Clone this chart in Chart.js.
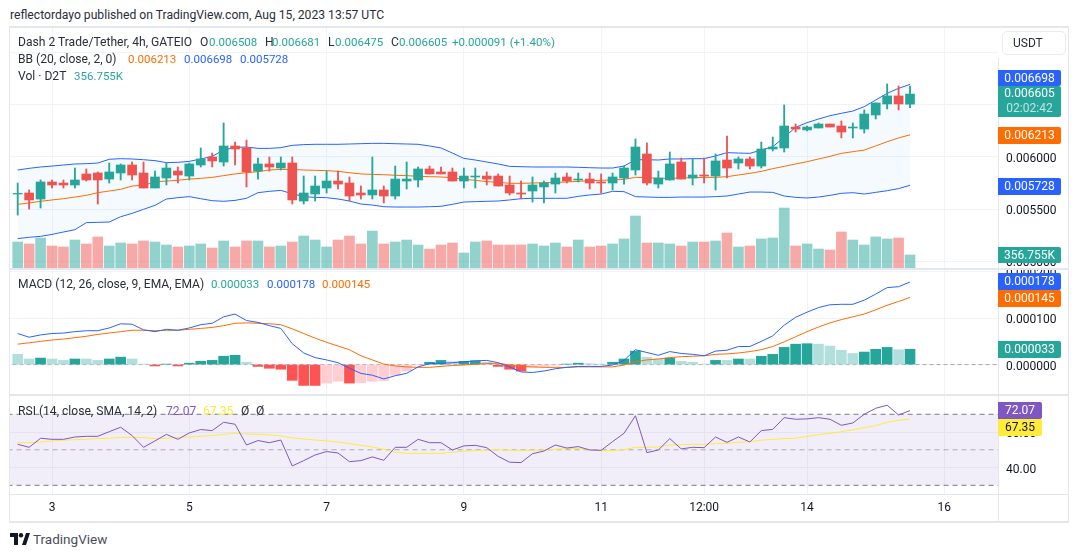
<!DOCTYPE html>
<html>
<head>
<meta charset="utf-8">
<script src="https://cdn.jsdelivr.net/npm/chart.js@4"></script>
<style>
  html, body { margin: 0; padding: 0; background: #fff; width: 1080px; height: 557px; overflow: hidden; }
  body { position: relative; font-family: Roboto, sans-serif; font-size: 12.1px; color: #2a2e39; }
  canvas { position: absolute; left: 10px; }
  .txt { position: absolute; white-space: nowrap; line-height: 14px; }
  .line { position: absolute; background: #e4e7ee; }
  .tag { position: absolute; left: 998px; width: 63px; height: 17px; line-height: 17px; text-align: center; color: #fff; border-radius: 0 2px 2px 0; font-size: 12px; }
  .green, .blue, .orange { font-size: 11.5px; }
  .green { color: #26a69a; } .blue { color: #2962ff; } .orange { color: #ff6d00; }
  .purple { color: #7e57c2; } .yellow { color: #ffeb3b; }
</style>
</head>
<body>
<canvas id="priceCanvas" width="1058" height="240" style="top:28px"></canvas>
<canvas id="macdCanvas" width="1058" height="124" style="top:270px"></canvas>
<canvas id="rsiCanvas" width="1058" height="125" style="top:396px"></canvas>

<div class="line" style="left:9px;top:26px;width:1060px;height:2px"></div>
<div class="line" style="left:9px;top:521px;width:1060px;height:2px"></div>
<div class="line" style="left:9px;top:26px;width:1px;height:497px"></div>
<div class="line" style="left:1068px;top:26px;width:1px;height:497px"></div>
<div class="line" style="left:10px;top:268px;width:1058px;height:2px"></div>
<div class="line" style="left:10px;top:394px;width:1058px;height:2px"></div>
<div class="line" style="left:10px;top:494px;width:1058px;height:1px"></div>
<div class="line" style="left:998px;top:58px;width:1px;height:464px"></div>

<div class="txt" style="left:10px;top:8px;font-size:12.15px">reflectordayo published on TradingView.com, Aug 15, 2023 13:57 UTC</div>

<div class="txt" style="left:18px;top:35px">Dash 2 Trade/Tether, 4h, GATEIO</div>
<div class="txt" style="left:200px;top:35px">O</div><div class="txt green" style="left:209px;top:35px">0.006508</div>
<div class="txt" style="left:265px;top:35px">H</div><div class="txt green" style="left:272px;top:35px">0.006681</div>
<div class="txt" style="left:328px;top:35px">L</div><div class="txt green" style="left:335px;top:35px">0.006475</div>
<div class="txt" style="left:391px;top:35px">C</div><div class="txt green" style="left:399px;top:35px">0.006605</div>
<div class="txt green" style="left:452px;top:35px">+0.000091 (+1.40%)</div>

<div class="txt" style="left:18px;top:52px">BB (20, close, 2, 0)</div>
<div class="txt orange" style="left:128px;top:52px">0.006213</div>
<div class="txt blue" style="left:184px;top:52px">0.006698</div>
<div class="txt blue" style="left:240px;top:52px">0.005728</div>

<div class="txt" style="left:18px;top:69px">Vol · D2T</div>
<div class="txt green" style="left:74px;top:69px">356.755K</div>

<div class="txt" style="left:18px;top:277px">MACD (12, 26, close, 9, EMA, EMA)</div>
<div class="txt green" style="left:211px;top:277px">0.000033</div>
<div class="txt blue" style="left:267px;top:277px">0.000178</div>
<div class="txt orange" style="left:322px;top:277px">0.000145</div>

<div class="txt" style="left:18px;top:404px">RSI (14, close, SMA, 14, 2)</div>
<div class="txt purple" style="left:166px;top:404px">72.07</div>
<div class="txt yellow" style="left:203px;top:404px">67.35</div>
<div class="txt" style="left:241px;top:404px">Ø</div>
<div class="txt" style="left:256px;top:404px">Ø</div>

<div style="position:absolute;left:998px;top:28px;width:70px;height:30px;background:#fff"></div>
<div class="txt" style="left:1002px;top:31px;width:52px;padding-left:10px;height:22px;line-height:22px;border:1px solid #e9ebf0;border-radius:5px;background:#fff;font-size:12px">USDT</div>

<div class="tag" style="top:70px;height:16px;background:#2962ff">0.006698</div>
<div class="tag" style="top:86px;height:31px;background:#26a69a;line-height:15px">0.006605<br><span style="color:#bfe5e1">02:02:42</span></div>
<div class="tag" style="top:127px;background:#ff6d00">0.006213</div>
<div class="tag" style="top:178px;background:#2962ff">0.005728</div>
<div class="tag" style="top:247px;height:16px;background:#26a69a">356.755K</div>
<div class="tag" style="top:273px;background:#2962ff">0.000178</div>
<div class="tag" style="top:290px;background:#ff6d00">0.000145</div>
<div class="tag" style="top:341px;background:#26a69a">0.000033</div>
<div class="tag" style="top:402px;width:44px;background:#7e57c2">72.07</div>
<div class="tag" style="top:419px;width:44px;background:#ffeb3b;color:#131722">67.35</div>

<svg style="position:absolute;left:10px;top:533px" width="20" height="12" viewBox="0 0 20 12">
  <path d="M0 0h8v12H4V4H0z M12 12l4-12h4l-4 12z" fill="#131722"/><circle cx="11" cy="2.2" r="2.2" fill="#131722"/>
</svg>
<div class="txt" style="left:33px;top:532px;font-size:13.5px;color:#4a4e59">TradingView</div>

<script>
// prices are kept in millionths (5644 = 0.005644), volume in thousands
const openValues = [5644,5654,5596,5760,5750,5731,5837,5846,5788,5846,
  5923,5846,5702,5798,5865,5817,5923,6000,5952,6106,
  6087,5865,5933,5894,5942,5577,5644,5702,5769,5750,
  5654,5635,5683,5625,5769,5779,5885,5856,5856,5769,
  5808,5817,5817,5731,5654,5673,5712,5740,5808,5779,
  5788,5760,5750,5798,5875,6029,5740,5779,5952,5798,
  5827,5817,5971,5942,5981,5913,6077,6087,6288,6260,
  6279,6317,6298,6279,6269,6404,6510,6587,6508];
const highValues = [5750,5683,5779,5779,5779,5894,5885,5856,5942,5933,
  5952,5952,5865,5942,5904,5942,6087,6038,6327,6144,
  6163,5990,6000,6000,6000,5817,5817,5865,5865,5808,
  5721,6000,5721,5913,5952,5904,5913,5904,5894,5894,
  5894,5856,5837,5817,5769,5808,5769,5846,5846,5846,
  5846,5837,5846,5913,6173,6135,5865,6048,5990,5981,
  5990,6029,6202,6000,6000,6144,6192,6500,6317,6298,
  6327,6317,6346,6327,6452,6519,6702,6683,6681];
const lowValues = [5442,5500,5510,5702,5702,5702,5769,5548,5750,5779,
  5779,5702,5702,5731,5750,5779,5904,5904,5913,5923,
  5712,5788,5865,5875,5548,5548,5577,5654,5692,5577,
  5596,5596,5558,5596,5692,5712,5837,5837,5769,5702,
  5702,5731,5721,5635,5596,5567,5558,5654,5750,5760,
  5692,5654,5683,5740,5827,5731,5702,5779,5788,5731,
  5750,5683,5798,5885,5885,5894,6058,6048,6240,6250,
  6279,6288,6183,6183,6231,6365,6462,6452,6475];
const closeValues = [5650,5587,5760,5731,5731,5779,5779,5779,5856,5923,
  5827,5702,5808,5894,5827,5933,5981,5962,6106,6077,
  5856,5933,5904,5942,5587,5654,5721,5769,5740,5625,
  5635,5683,5625,5788,5788,5885,5837,5837,5769,5817,
  5817,5788,5721,5654,5644,5731,5750,5798,5769,5788,
  5750,5750,5808,5894,6096,5750,5798,5933,5788,5827,
  5817,5962,5894,5981,5913,6077,6096,6298,6269,6288,
  6317,6288,6240,6288,6413,6519,6587,6510,6605];
const volumeValues = [713,659,823,604,576,768,659,851,604,686,
  659,741,713,631,576,604,659,549,741,576,
  741,741,576,604,713,878,768,576,768,878,
  659,1015,659,713,768,631,521,631,686,412,
  713,741,631,631,631,659,604,686,576,768,
  576,604,659,796,1427,686,686,659,604,713,
  713,741,960,576,604,796,823,1646,604,659,
  521,494,988,768,631,851,796,823,357];

const bbUpper = [5875,5891,5904,5913,5923,5933,5936,5942,5978,5984,
  5981,5974,5965,5946,5949,5958,5981,6006,6067,6093,
  6096,6083,6083,6090,6112,6119,6122,6122,6122,6125,
  6128,6131,6131,6128,6125,6122,6106,6087,6038,5987,
  5971,5952,5933,5910,5907,5904,5904,5904,5904,5901,
  5897,5894,5894,5913,5974,5974,5971,5981,5981,5984,
  5984,6010,6042,6038,6035,6067,6099,6189,6285,6330,
  6365,6397,6420,6442,6484,6548,6612,6660,6698];
const bbBasis = [5545,5558,5574,5587,5599,5615,5631,5657,5673,5689,
  5721,5728,5760,5769,5776,5788,5795,5804,5821,5837,
  5849,5859,5875,5881,5881,5875,5872,5869,5862,5849,
  5837,5833,5830,5824,5821,5814,5811,5808,5801,5785,
  5776,5763,5756,5747,5747,5750,5753,5756,5760,5766,
  5772,5776,5779,5785,5804,5801,5795,5795,5798,5801,
  5804,5804,5811,5827,5843,5862,5888,5910,5933,5955,
  5981,6006,6035,6051,6067,6106,6147,6183,6213];
const bbLower = [5215,5228,5237,5256,5279,5301,5369,5372,5375,5426,
  5458,5497,5535,5596,5609,5619,5599,5580,5574,5583,
  5603,5657,5670,5679,5647,5619,5612,5609,5596,5577,
  5548,5538,5522,5519,5519,5519,5522,5526,5545,5567,
  5571,5574,5577,5587,5599,5603,5603,5603,5603,5622,
  5635,5644,5670,5667,5619,5615,5612,5612,5615,5615,
  5615,5619,5625,5644,5663,5663,5660,5625,5612,5606,
  5615,5631,5651,5657,5644,5660,5676,5696,5728];

const macdLine = [67,59,64,67,68,71,73,73,79,88,
  87,75,71,76,74,79,86,89,103,109,
  95,91,84,78,45,25,15,10,4,-8,
  -19,-23,-31,-24,-19,-5,2,3,4,6,
  8,9,4,-5,-16,-17,-14,-9,-6,-4,
  -4,-4,-1,9,32,26,20,28,24,22,
  19,29,31,39,39,50,62,85,102,113,
  123,129,130,130,139,152,166,168,178];
const signalLine = [44,47,50,53,55,58,61,65,68,71,
  74,74,73,74,74,76,78,80,84,89,
  90,89,88,86,77,67,57,48,40,32,
  19,10,1,-3,-5,-6,-6,-4,-2,-1,
  1,2,3,-1,-4,-5,-6,-6,-6,-5,
  -5,-5,-5,-1,6,10,12,15,17,18,
  19,22,23,25,28,32,39,49,60,71,
  81,90,97,103,109,118,128,136,145];
const macdHist = [22,12,14,12,9,12,12,9,12,16,
  12,1,-3,1,-3,3,7,9,18,20,
  5,-4,-8,-10,-34,-45,-45,-40,-36,-40,
  -39,-36,-35,-23,-14,-1,5,9,6,7,
  8,5,-4,-10,-14,-6,-4,-1,1,3,
  2,1,5,12,29,16,12,14,7,5,
  1,9,9,12,12,18,22,37,44,45,
  44,40,31,24,27,33,37,32,33];

const rsiLine = [53.1,51.4,56.5,55.9,55.9,57.2,57.6,57.6,60.2,62.7,
  58.0,51.4,55.0,58.7,55.9,59.5,61.4,60.8,65.5,64.4,
  52.7,55.2,54.0,55.5,40.9,43.9,47.1,49.0,48.2,43.3,
  43.9,46.0,44.1,51.4,51.4,55.9,54.0,54.0,49.9,52.2,
  52.5,51.2,46.3,43.0,42.8,47.8,49.3,52.7,51.0,51.8,
  49.9,49.7,54.6,59.3,69.2,48.4,49.9,56.3,50.5,51.4,
  51.2,57.2,54.2,57.2,54.4,60.8,61.5,68.1,67.2,67.4,
  68.1,67.2,63.8,65.1,70.0,73.4,75.1,69.6,72.07];
const rsiAverage = [54.0,54.0,54.4,55.0,55.4,55.7,55.9,56.3,56.5,57.0,
  57.0,56.9,56.3,56.5,56.9,57.2,57.6,58.0,58.7,59.3,
  58.9,58.7,58.4,57.8,56.7,56.1,55.5,55.0,54.4,53.5,
  52.5,51.6,50.3,48.6,48.0,48.0,48.0,48.0,48.6,49.2,
  49.5,49.9,50.1,49.7,49.7,49.7,49.9,50.3,50.7,50.7,
  50.1,49.5,49.5,50.1,51.4,51.4,51.6,52.7,52.9,53.1,
  53.1,53.5,53.7,54.2,54.6,55.4,55.9,56.3,56.5,57.6,
  58.5,59.3,60.2,61.2,62.5,63.6,65.5,66.6,67.35];

const timeTicks = [3, 15, 27, 39, 51, 60, 69, 81];
const timeLabels = ["3", "5", "7", "9", "11", "12:00", "14", "16"];
const priceTicks = [5000, 5500, 6000, 6500, 7000];
const macdTicks = [0, 100, 200];
const rsiTicks = [40, 60];
const rsiLevels = [70, 30];
const rsiMiddle = 50;

const xMin = -0.673;
const xMax = 85.69;
const up = "#26a69a";
const down = "#ef5350";
const gridColor = "#f0f3fa";

Chart.defaults.font.family = "Roboto, sans-serif";
Chart.defaults.font.size = 11.5;
Chart.defaults.color = "#2a2e39";

function toPoints(values) {
  return values.map((v, i) => ({ x: i, y: v }));
}

function toRanges(a, b) {
  return a.map((v, i) => ({ x: i, y: [v, b[i]] }));
}

function flatLine(v) {
  return [{ x: xMin - 1, y: v }, { x: xMax + 1, y: v }];
}

function candleColors(upColor, downColor) {
  return closeValues.map((c, i) => (c >= openValues[i] ? upColor : downColor));
}

function barSet(data, colors, width, order, yAxisID) {
  return {
    type: "bar", data: data, backgroundColor: colors, yAxisID: yAxisID || "y",
    order: order, grouped: false, barPercentage: 1, categoryPercentage: 1,
    maxBarThickness: width, borderWidth: 0,
  };
}

function lineSet(data, color, order, extra) {
  return Object.assign({
    type: "line", data: data, borderColor: color, borderWidth: 1,
    pointRadius: 0, tension: 0, fill: false, order: order,
  }, extra || {});
}

function xScale(showLabels) {
  return {
    type: "linear", min: xMin, max: xMax, offset: false,
    grid: { color: gridColor, drawTicks: false, offset: false },
    border: { display: false },
    afterBuildTicks: (s) => { s.ticks = timeTicks.map((v) => ({ value: v })); },
    afterFit: (s) => {
      s.height = showLabels ? 27 : 0;
      s.paddingLeft = 0;
      s.paddingRight = 0;
    },
    ticks: {
      display: showLabels, autoSkip: false, maxRotation: 0, padding: 7,
      color: "#131722", font: { size: 12 },
      callback: (v) => timeLabels[timeTicks.indexOf(v)],
    },
  };
}

function yScale(min, max, tickValues, format) {
  return {
    position: "right", min: min, max: max,
    grid: { color: gridColor, drawTicks: false },
    border: { display: false },
    afterBuildTicks: (s) => { s.ticks = tickValues.map((v) => ({ value: v })); },
    afterFit: (s) => {
      s.width = 70;
      // no room kept for half a label above and below the plot
      s.paddingTop = 0;
      s.paddingBottom = 0;
    },
    ticks: {
      padding: 8, autoSkip: false, color: "#131722",
      // two-line label with a short line height moves the text about 2px down
      font: { size: 12, lineHeight: "4px" },
      callback: (v) => ["", format(v)],
    },
  };
}

function makeChart(id, datasets, scales) {
  return new Chart(document.getElementById(id), {
    type: "bar",
    data: { datasets: datasets },
    options: {
      responsive: false,
      animation: false,
      layout: { padding: 0 },
      plugins: { legend: { display: false }, tooltip: { enabled: false } },
      scales: scales,
    },
  });
}

// PRICE + VOLUME
makeChart("priceCanvas", [
  barSet(toRanges(openValues, closeValues), candleColors(up, down), 9, 0),
  barSet(toRanges(lowValues, highValues), candleColors(up, down), 1.2, 1),
  lineSet(toPoints(bbBasis), "#ff6d00", 2),
  lineSet(toPoints(bbUpper), "#2962ff", 3, { fill: "+1", backgroundColor: "rgba(33,150,243,0.05)" }),
  lineSet(toPoints(bbLower), "#2962ff", 3),
  barSet(toPoints(volumeValues), candleColors("rgba(38,166,154,0.5)", "rgba(239,83,80,0.5)"), 10, 5, "yVolume"),
], {
  x: xScale(false),
  y: yScale(4933, 7240, priceTicks, (v) => (v / 1e6).toFixed(6)),
  yVolume: { display: false, min: 0, max: 6586 },
});

// MACD
const histColors = macdHist.map((v, i) => {
  const rising = i > 0 && v > macdHist[i - 1];
  if (v >= 0) return rising ? "#26a69a" : "#b2dfdb";
  return rising ? "#ffcdd2" : "#ff5252";
});

makeChart("macdCanvas", [
  lineSet(toPoints(macdLine), "#2962ff", 0),
  lineSet(toPoints(signalLine), "#ff6d00", 1),
  barSet(toPoints(macdHist), histColors, 10, 2),
  lineSet(flatLine(0), "rgba(120,123,134,0.6)", 3, { borderDash: [4, 3] }),
], {
  x: xScale(false),
  y: yScale(-63.5, 204, macdTicks, (v) => (v / 1e6).toFixed(6)),
});

// RSI
makeChart("rsiCanvas", [
  lineSet(toPoints(rsiAverage), "#ffeb3b", 1),
  lineSet(toPoints(rsiLine), "#7e57c2", 0),
  lineSet(flatLine(rsiLevels[0]), "#787b86", 3, { borderDash: [5, 4], fill: "+1", backgroundColor: "rgba(126,87,194,0.1)" }),
  lineSet(flatLine(rsiLevels[1]), "#787b86", 3, { borderDash: [5, 4] }),
  lineSet(flatLine(rsiMiddle), "rgba(120,123,134,0.6)", 2, { borderDash: [5, 4] }),
], {
  x: xScale(true),
  y: yScale(25.1, 80.3, rsiTicks, (v) => v.toFixed(2)),
});
</script>
</body>
</html>
